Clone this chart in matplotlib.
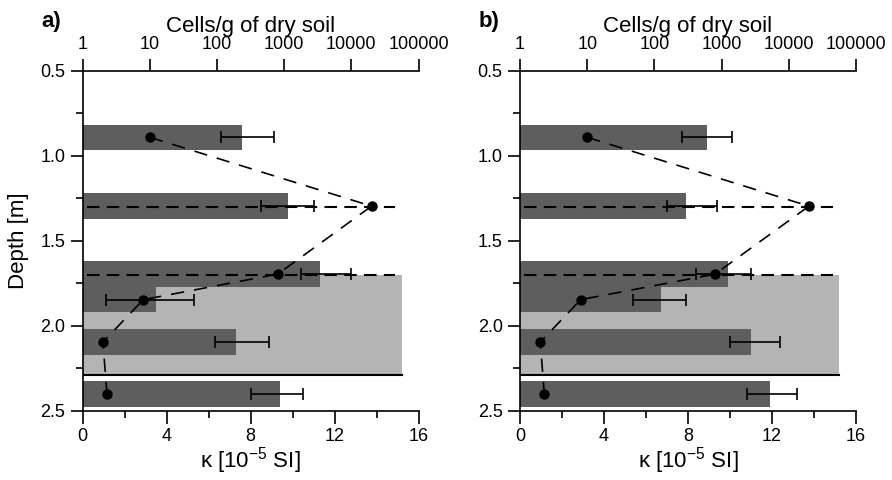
import matplotlib
matplotlib.use("Agg")
import matplotlib.pyplot as plt
import numpy as np

plt.rcParams['font.family'] = ['Liberation Sans', 'DejaVu Sans']
plt.rcParams['mathtext.fontset'] = 'custom'
plt.rcParams['mathtext.rm'] = 'Liberation Sans'
plt.rcParams['mathtext.it'] = 'Liberation Sans'

# Data
depths = [0.89, 1.295, 1.695, 1.845, 2.095, 2.40]
cells = [10, 20000, 800, 8, 2, 2.3]

kappa_a = [7.6, 9.8, 11.3, 3.5, 7.3, 9.4]
kappa_a_lo = [6.6, 8.5, 10.4, 1.1, 6.3, 8.0]
kappa_a_hi = [9.1, 11.0, 12.8, 5.3, 8.9, 10.5]

kappa_b = [8.9, 7.9, 9.9, 6.7, 11.0, 11.9]
kappa_b_lo = [7.7, 7.0, 8.4, 5.4, 10.0, 10.8]
kappa_b_hi = [10.1, 9.4, 11.0, 7.9, 12.4, 13.2]

zone_top, zone_bottom, zone_right = 1.70, 2.29, 15.2
dash_depths = [1.3, 1.7]
panel_labels = ['a)', 'b)']

dark = '#5e5e5e'
light = '#b4b4b4'
FS = 13
LFS = 16

fig = plt.figure(figsize=(8.92, 4.8), dpi=100)
lefts = [0.0927, 0.583]
width = 0.3765
bottom, height = 0.1438, 0.7083

panels = [(kappa_a, kappa_a_lo, kappa_a_hi), (kappa_b, kappa_b_lo, kappa_b_hi)]

for i, (kap, lo, hi) in enumerate(panels):
    ax = fig.add_axes([lefts[i], bottom, width, height])
    # light zone
    ax.barh((zone_top + zone_bottom) / 2, zone_right, height=zone_bottom - zone_top,
            color=light, zorder=1, linewidth=0)
    ax.plot([0.05, zone_right], [zone_bottom, zone_bottom], color='black', lw=1.5, zorder=3)
    # bars
    ax.barh(depths, kap, height=0.15, color=dark, zorder=2, linewidth=0)
    kap = np.array(kap); lo = np.array(lo); hi = np.array(hi)
    ax.errorbar(kap, depths, xerr=[kap - lo, hi - kap], fmt='none', ecolor='black',
                elinewidth=1.2, capsize=4.5, capthick=1.2, zorder=4)
    # dashed horizontal lines
    for d in dash_depths:
        ax.plot([0.2, 14.9], [d, d], color='black', lw=1.5, dashes=(6, 3.5), zorder=5)

    ax.set_xlim(0, 16)
    ax.set_ylim(2.5, 0.5)
    ax.set_xticks([0, 4, 8, 12, 16])
    ax.set_xticks([2, 6, 10, 14], minor=True)
    ax.set_yticks([0.5, 1.0, 1.5, 2.0, 2.5])
    ax.set_yticklabels(['0.5', '1.0', '1.5', '2.0', '2.5'])
    ax.set_yticks([0.75, 1.25, 1.75, 2.25], minor=True)
    ax.tick_params(axis='both', which='major', length=9, width=1.2, labelsize=FS, direction='out')
    ax.tick_params(axis='both', which='minor', length=5, width=1.2, direction='out')
    ax.spines['right'].set_visible(False)
    ax.spines['top'].set_visible(False)
    for s in ['left', 'bottom']:
        ax.spines[s].set_linewidth(1.2)
    ax.set_xlabel(r'κ [10$^{-5}$ SI]', fontsize=LFS, labelpad=0)
    if i == 0:
        ax.set_ylabel('Depth [m]', fontsize=LFS, labelpad=8)

    axt = ax.twiny()
    axt.set_xscale('log')
    axt.set_xlim(1, 1e5)
    axt.set_xticks([1, 10, 100, 1000, 10000, 100000])
    axt.set_xticklabels(['1', '10', '100', '1000', '10000', '100000'])
    axt.xaxis.set_minor_locator(matplotlib.ticker.NullLocator())
    axt.tick_params(axis='x', which='major', length=9, width=1.2, labelsize=FS, direction='out', pad=4)
    for s in ['right', 'bottom', 'left']:
        axt.spines[s].set_visible(False)
    axt.spines['top'].set_linewidth(1.2)
    axt.plot(cells, depths, color='black', lw=1.2, dashes=(8, 6), marker='o',
             markersize=6.5, zorder=6)
    axt.set_ylim(2.5, 0.5)
    axt.set_xlabel('Cells/g of dry soil', fontsize=LFS, labelpad=3)

    fig.text(lefts[i] - 0.035, 0.955, panel_labels[i], fontsize=LFS, fontweight='bold',
             ha='center', va='center')

fig.savefig('out.png', dpi=100)
